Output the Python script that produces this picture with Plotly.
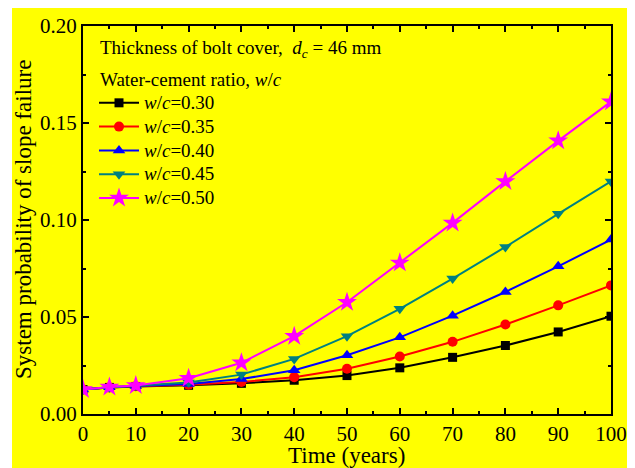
import plotly.graph_objects as go

years = [0, 5, 10, 20, 30, 40, 50, 60, 70, 80, 90, 100]
wc030 = [0.0126, 0.0137, 0.0142, 0.0148, 0.0158, 0.0174, 0.0198, 0.0238, 0.0292, 0.0353, 0.0423, 0.0504]
wc035 = [0.0126, 0.0137, 0.0143, 0.0151, 0.0165, 0.0190, 0.0233, 0.0296, 0.0372, 0.0461, 0.0560, 0.0663]
wc040 = [0.0126, 0.0138, 0.0144, 0.0155, 0.0180, 0.0226, 0.0303, 0.0395, 0.0507, 0.0629, 0.0761, 0.0899]
wc045 = [0.0126, 0.0138, 0.0145, 0.0162, 0.0203, 0.0284, 0.0401, 0.0542, 0.0698, 0.0861, 0.1032, 0.1199]
wc050 = [0.0126, 0.0139, 0.0147, 0.0184, 0.0264, 0.0401, 0.0576, 0.0779, 0.0985, 0.1199, 0.1408, 0.1610]
series_names = ["<i>w</i>/<i>c</i>=0.30", "<i>w</i>/<i>c</i>=0.35", "<i>w</i>/<i>c</i>=0.40",
                "<i>w</i>/<i>c</i>=0.45", "<i>w</i>/<i>c</i>=0.50"]
y_ticks = [0.00, 0.05, 0.10, 0.15, 0.20]
x_ticks = [0, 10, 20, 30, 40, 50, 60, 70, 80, 90, 100]

colors = ["#000000", "#FF0000", "#0000FF", "#008080", "#FF00FF"]
symbols = ["square", "circle", "triangle-up", "triangle-down", "star"]
sizes = [9, 10, 11, 11, 15]
data = [wc030, wc035, wc040, wc045, wc050]

FONT = "Liberation Serif"
PW, PH = 528, 388.5

fig = go.Figure()
for name, ys, c, s, sz in zip(series_names, data, colors, symbols, sizes):
    fig.add_trace(go.Scatter(
        x=years, y=ys, name='<span style="font-size:19px">' + name + '</span>',
        mode="lines+markers",
        line=dict(color=c, width=2),
        marker=dict(color=c, symbol=s, size=sz, line=dict(width=0)),
    ))

axis_common = dict(
    showline=True, linecolor="black", linewidth=2, mirror="ticks",
    ticks="inside", ticklen=6, tickwidth=1.5, tickcolor="black",
    showgrid=False, zeroline=False, automargin=False,
    tickfont=dict(family=FONT, size=21, color="black"),
)

fig.update_layout(
    width=635, height=468,
    paper_bgcolor="white", plot_bgcolor="rgba(0,0,0,0)",
    margin=dict(l=75, r=32, t=18, b=61.5),
    font=dict(family=FONT, color="black"),
    xaxis=dict(range=[0, 100], tickvals=x_ticks,
               minor=dict(ticks="inside", ticklen=3, tickwidth=1.5, dtick=5, tickcolor="black"),
               **axis_common),
    yaxis=dict(range=[0, 0.2], tickvals=y_ticks, tickformat=".2f",
               minor=dict(ticks="inside", ticklen=3, tickwidth=1.5, dtick=0.025, tickcolor="black"),
               **axis_common),
    legend=dict(x=11/PW, y=1 - 60/PH, xanchor="left", yanchor="top",
                bgcolor="rgba(0,0,0,0)", borderwidth=0,
                font=dict(family=FONT, size=16), tracegroupgap=0,
                itemwidth=40),
    shapes=[dict(type="rect", xref="paper", yref="paper",
                 x0=-71/PW, x1=1 + 16/PW, y0=-1.2, y1=1 + 18/PH,
                 fillcolor="#FFFF00", line=dict(width=0), layer="below")],
    annotations=[
        dict(xref="paper", yref="paper", x=15/PW, y=1 - 23/PH, xanchor="left", yanchor="middle",
             showarrow=False, font=dict(family=FONT, size=19),
             text="Thickness of bolt cover,  <i>d</i><sub><i>c</i></sub> = 46 mm"),
        dict(xref="paper", yref="paper", x=15/PW, y=1 - 54/PH, xanchor="left", yanchor="middle",
             showarrow=False, font=dict(family=FONT, size=19),
             text="Water-cement ratio, <i>w</i>/<i>c</i>"),
        dict(xref="paper", yref="paper", x=263/PW, y=-42/PH, xanchor="center", yanchor="middle",
             showarrow=False, font=dict(family=FONT, size=23),
             text="Time (years)"),
        dict(xref="paper", yref="paper", x=-60/PW, y=0.5, xanchor="center", yanchor="middle",
             showarrow=False, textangle=-90, font=dict(family=FONT, size=23),
             text="System probability of slope failure"),
    ],
)

fig.write_html("out.html")
